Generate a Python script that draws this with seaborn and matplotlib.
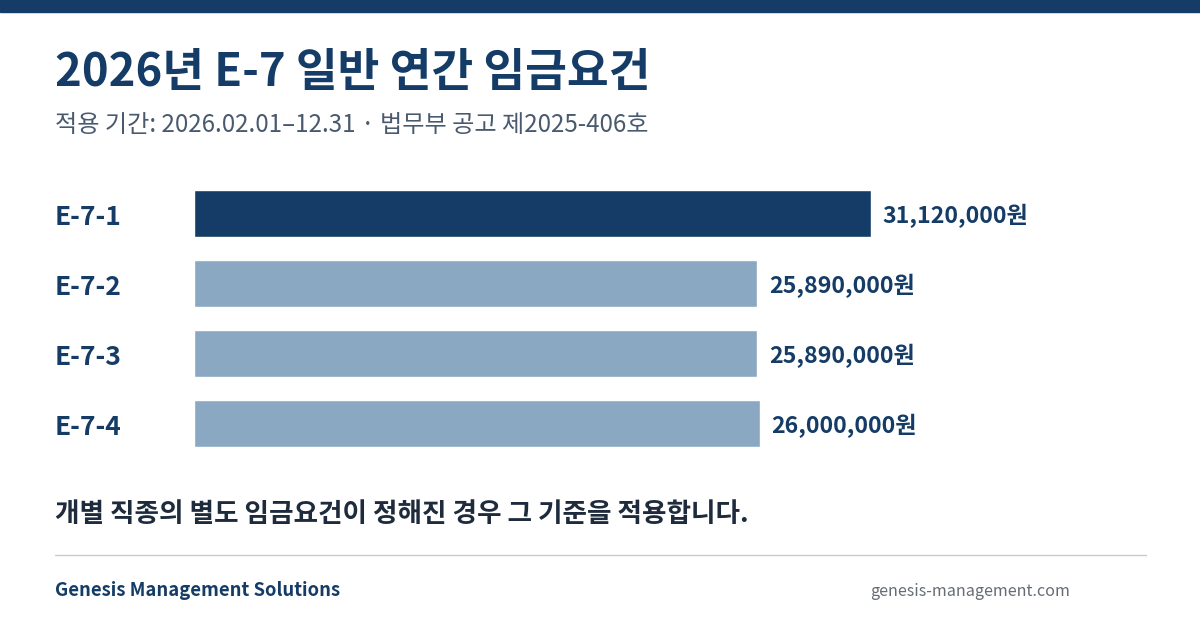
import numpy as np
import pandas as pd
import matplotlib
matplotlib.use("Agg")
import matplotlib.pyplot as plt
import matplotlib.transforms as mtransforms
from matplotlib.patches import Rectangle
import seaborn as sns

# ==================== DATA ====================
grades = ["E-7-1", "E-7-2", "E-7-3", "E-7-4"]
wages = [31120000, 25890000, 25890000, 26000000]
highlight = ["top", "other", "other", "other"]

title = "2026년 E-7 일반 연간 임금요건"
subtitle = "적용 기간: 2026.02.01–12.31 · 법무부 공고 제2025-406호"
note = "개별 직종의 별도 임금요건이 정해진 경우 그 기준을 적용합니다."
brand = "Genesis Management Solutions"
site = "genesis-management.com"

NAVY = "#143c66"
LIGHT = "#8aa8c2"

# ==================== STYLE ====================
sns.set_style("white")
plt.rcParams["font.family"] = ["Noto Sans CJK KR", "DejaVu Sans"]

W, H = 1200, 630
fig = plt.figure(figsize=(12, 6.3), dpi=100)


def fx(px):
    return px / W


def fy(py):
    return 1 - py / H


# top band
fig.patches.append(Rectangle((0, fy(12)), 1, 12 / H, transform=fig.transFigure,
                             color=NAVY, zorder=0))

# ==================== BARS ====================
df = pd.DataFrame({"grade": grades, "wage": wages, "kind": highlight})

ax_left, ax_right = 194, 1146
px_per_won = (871 - 194) / wages[0]
ax = fig.add_axes([fx(ax_left), fy(458.5), fx(ax_right - ax_left), (458.5 - 178.5) / H])
sns.barplot(data=df, x="wage", y="grade", hue="kind", orient="h",
            palette={"top": NAVY, "other": LIGHT}, width=47 / 70,
            dodge=False, legend=False, ax=ax, saturation=1)
ax.set_xlim(0, (ax_right - ax_left) / px_per_won)
ax.set_ylim(3.5, -0.5)
ax.axis("off")

for cont in ax.containers:
    lbls = ax.bar_label(cont, labels=[f"{v:,.0f}원" for v in cont.datavalues],
                        padding=8.5, fontsize=16.7, fontweight="bold", color=NAVY)
    for t in lbls:
        t.set_va("center_baseline")

trans = mtransforms.blended_transform_factory(fig.transFigure, ax.transData)
for i, g in enumerate(grades):
    ax.text(fx(55), i + 0.06, g, transform=trans, ha="left", va="center",
            fontsize=19, fontweight="bold", color=NAVY)

# ==================== TEXT ====================
fig.text(fx(55), fy(73), title, ha="left", va="center", fontsize=32.7,
         fontweight="bold", color=NAVY)
fig.text(fx(55), fy(125), subtitle, ha="left", va="center", fontsize=17.4,
         color="#4a5a6e")
fig.text(fx(55), fy(515), note, ha="left", va="center", fontsize=19.2,
         fontweight="bold", color="#1e2b3c")

fig.add_artist(plt.Line2D([fx(55), fx(1146)], [fy(555), fy(555)],
                          transform=fig.transFigure, color="#c3cad2", lw=1))

fig.text(fx(55), fy(591), brand, ha="left", va="center", fontsize=13.3,
         fontweight="bold", color=NAVY)
fig.text(fx(1070), fy(591), site, ha="right", va="center", fontsize=11.6,
         color="#666c73")

fig.savefig("out.png", dpi=100)
